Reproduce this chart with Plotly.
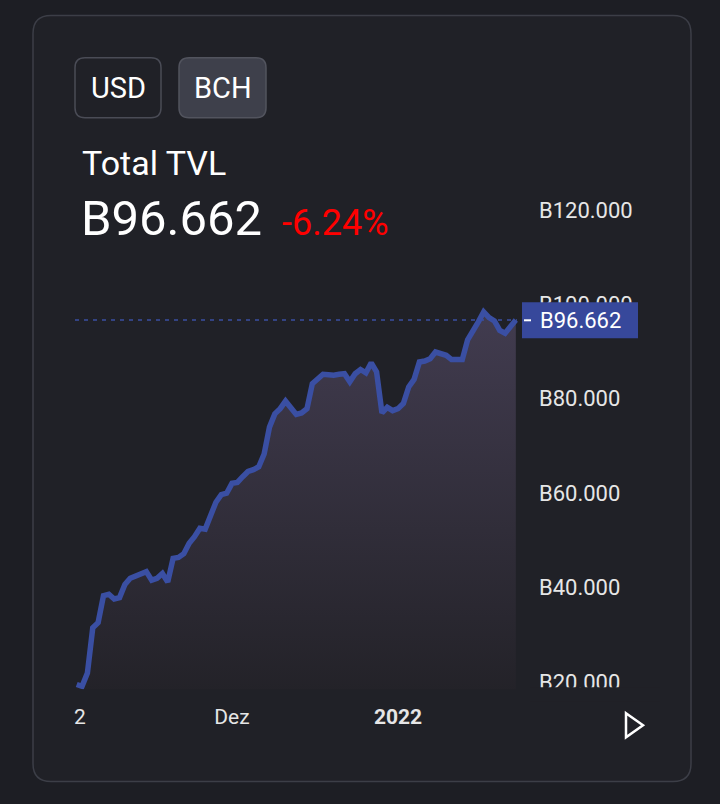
import plotly.graph_objects as go
import pandas as pd

# ---- data ----
start_date = "2021-11-02"
tvl_values = [
    19.5, 19.1, 21.9, 31.5, 32.6, 38.3, 38.6, 37.6, 37.9, 40.7,
    42.0, 42.4, 42.9, 43.4, 41.6, 42.0, 43.0, 41.2, 46.2, 46.4,
    47.2, 49.4, 50.8, 52.6, 52.4, 55.2, 58.1, 59.7, 60.0, 62.1,
    62.3, 63.5, 64.6, 65.0, 65.6, 68.3, 74.0, 76.8, 77.9, 79.5,
    78.2, 76.7, 77.0, 77.9, 83.2, 84.3, 85.2, 85.1, 85.0, 85.2,
    85.3, 83.6, 85.3, 86.2, 85.5, 87.6, 85.7, 77.0, 78.2, 77.5,
    77.9, 79.0, 82.5, 84.1, 87.8, 88.0, 88.5, 89.9, 89.6, 89.2,
    88.3, 88.3, 88.3, 92.5, 94.2, 96.3, 98.4, 97.2, 96.5, 94.5,
    93.9, 95.2, 96.662,
]
dates = pd.date_range(start_date, periods=len(tvl_values), freq="D")
last_value = tvl_values[-1]
change_pct = "-6.24%"
y_tick_vals = [20, 40, 60, 80, 100, 120]
y_tick_text = ["B20.000", "B40.000", "B60.000", "B80.000", "B100.000", "B120.000"]
x_tick_vals = ["2021-12-01", "2022-01-01"]
x_tick_text = ["Dez", "<b>2022</b>"]

W, H = 720, 804
# vertical calibration of the rendering pipeline
V_SCALE, V_OFF = 0.9876, 2.5
def px(x):
    return x / W
def py(y):
    return 1 - (y - V_OFF) / (V_SCALE * H)

def rrect(x0, y0, x1, y1, r):
    rx, ry = r / W, r / (V_SCALE * H)
    X0, X1 = px(x0), px(x1)
    Y0, Y1 = py(y0), py(y1)
    return (f"M {X0+rx},{Y0} L {X1-rx},{Y0} Q {X1},{Y0} {X1},{Y0-ry} "
            f"L {X1},{Y1+ry} Q {X1},{Y1} {X1-rx},{Y1} L {X0+rx},{Y1} "
            f"Q {X0},{Y1} {X0},{Y1+ry} L {X0},{Y0-ry} Q {X0},{Y0} {X0+rx},{Y0} Z")

OUTER_BG = "#1d1e24"
CARD_BG = "#202127"
LINE_C = "#3a4fa3"
FONT = "Roboto"

fig = go.Figure()
fig.add_trace(go.Scatter(
    x=dates, y=tvl_values, mode="lines",
    line=dict(color=LINE_C, width=5.5, shape="linear"),
    fill="tozeroy",
    fillgradient=dict(type="vertical", start=18.5, stop=100,
                      colorscale=[[0, "#232228"], [1, "#423c50"]]),
    hoverinfo="skip",
))

shapes = [
    dict(type="path", path=rrect(33, 16, 691, 780, 18), xref="paper", yref="paper",
         fillcolor=CARD_BG, line=dict(color="#3c3e47", width=1.5), layer="below"),
    dict(type="path", path=rrect(75, 58, 161, 118, 10), xref="paper", yref="paper",
         fillcolor="rgba(0,0,0,0)", line=dict(color="#4a4c56", width=1.5), layer="below"),
    dict(type="path", path=rrect(179, 58, 266, 118, 10), xref="paper", yref="paper",
         fillcolor="#3e404b", line=dict(color="#52545e", width=1.5), layer="below"),
    dict(type="line", xref="paper", yref="y", x0=px(75), x1=px(517),
         y0=last_value, y1=last_value,
         line=dict(color=LINE_C, width=1.5, dash="4px,5px"), layer="above"),
    dict(type="rect", xref="paper", yref="paper", x0=px(530), x1=px(660),
         y0=py(700), y1=py(686), fillcolor=CARD_BG, line=dict(width=0), layer="above"),
    dict(type="rect", xref="paper", yref="paper", x0=px(522), x1=px(638),
         y0=py(338), y1=py(302), fillcolor="#37489b", line=dict(width=0), layer="above"),
    dict(type="line", xref="paper", yref="paper", x0=px(524), x1=px(531),
         y0=py(320), y1=py(320), line=dict(color="#ffffff", width=2), layer="above"),
    dict(type="path", xref="paper", yref="paper",
         path=f"M {px(626)},{py(712)} L {px(643)},{py(724)} L {px(626)},{py(736)} Z",
         line=dict(color="#ffffff", width=2.5), fillcolor="rgba(0,0,0,0)", layer="above"),
]

annotations = [
    dict(text="USD", x=px(118), y=py(88), xref="paper", yref="paper", showarrow=False,
         xanchor="center", yanchor="middle", font=dict(family=FONT, size=29, color="#ffffff")),
    dict(text="BCH", x=px(222.5), y=py(88), xref="paper", yref="paper", showarrow=False,
         xanchor="center", yanchor="middle", font=dict(family=FONT, size=29, color="#ffffff")),
    dict(text="Total TVL", x=px(80), y=py(163), xref="paper", yref="paper", showarrow=False,
         xanchor="left", yanchor="middle", font=dict(family=FONT, size=34, color="#ffffff")),
    dict(text=f"B{last_value:.3f}", x=px(79), y=py(218), xref="paper", yref="paper", showarrow=False,
         xanchor="left", yanchor="middle", font=dict(family=FONT, size=49, color="#ffffff")),
    dict(text=change_pct, x=px(280), y=py(223), xref="paper", yref="paper", showarrow=False,
         xanchor="left", yanchor="middle", font=dict(family=FONT, size=36, color="#ff0000")),
    dict(text=f"B{last_value:.3f}", x=px(538), y=py(320), xref="paper", yref="paper", showarrow=False,
         xanchor="left", yanchor="middle", font=dict(family=FONT, size=22, color="#ffffff")),
    dict(text="2", x=px(72), y=py(716), xref="paper", yref="paper", showarrow=False,
         xanchor="left", yanchor="middle", font=dict(family=FONT, size=21, color="#e6e6e6")),
]

fig.update_layout(
    width=W, height=H,
    margin=dict(l=0, r=0, t=0, b=0),
    paper_bgcolor=OUTER_BG, plot_bgcolor="rgba(0,0,0,0)",
    showlegend=False,
    shapes=shapes, annotations=annotations,
    xaxis=dict(
        domain=[px(75), px(520)],
        range=["2021-11-01 16:23", "2022-01-23 18:45"],
        tickvals=x_tick_vals, ticktext=x_tick_text,
        showgrid=False, zeroline=False, showline=False, ticks="",
        ticklabelstandoff=13,
        tickfont=dict(family=FONT, size=21, color="#e6e6e6"),
    ),
    yaxis=dict(
        domain=[py(688), py(200)],
        range=[18.5, 122.1],
        side="right",
        tickvals=y_tick_vals, ticktext=y_tick_text,
        showgrid=False, zeroline=False, showline=False, ticks="",
        ticklabelstandoff=18,
        tickfont=dict(family=FONT, size=22, color="#e6e6e6"),
    ),
)

page_fix = (
    "document.documentElement.style.margin='0';"
    "document.documentElement.style.background='#1d1e24';"
    "document.body.style.margin='0';"
    "document.body.style.background='#1d1e24';"
)

fig.write_html(
    "out.html",
    config={"displayModeBar": False, "staticPlot": True},
    post_script=page_fix,
)
